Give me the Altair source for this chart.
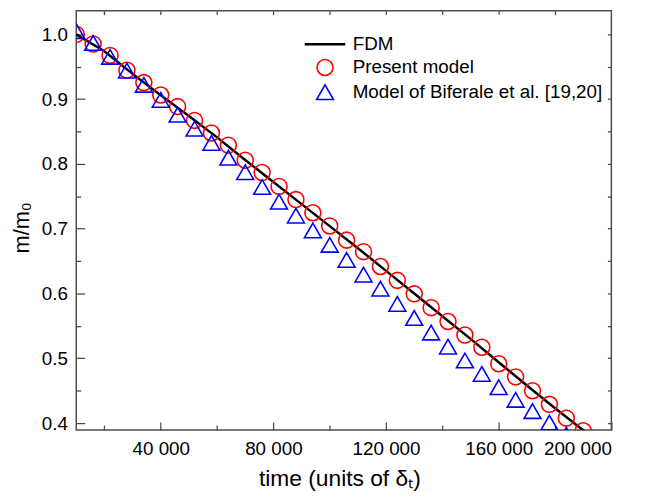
import altair as alt
import pandas as pd

# ---------------- data ----------------
series_names = ["FDM", "Present model", "Model of Biferale et al. [19,20]"]
series_colors = ["#000000", "#ff0000", "#0000ff"]
series_shapes = ["stroke", "circle", "triangle-up"]
series_sizes = [1681, 260, 290]
series_widths = [2.5, 1.6, 1.6]

fdm_time = [10000, 20000, 30000, 40000, 50000, 60000, 70000, 80000, 90000, 100000,
            110000, 120000, 130000, 140000, 150000, 160000, 170000, 180000, 190000, 195000]
fdm_mass = [1.000, 0.974, 0.939, 0.906, 0.874, 0.841, 0.806, 0.772, 0.738, 0.704,
            0.670, 0.635, 0.600, 0.565, 0.530, 0.494, 0.458, 0.423, 0.389, 0.371]

present_time = [10000, 16000, 22000, 28000, 34000, 40000, 46000, 52000, 58000, 64000,
                70000, 76000, 82000, 88000, 94000, 100000, 106000, 112000, 118000, 124000,
                130000, 136000, 142000, 148000, 154000, 160000, 166000, 172000, 178000, 184000,
                190000]
present_mass = [1.000, 0.9852, 0.9675, 0.9446, 0.9256, 0.9064, 0.8885, 0.8672, 0.8478, 0.8290,
                0.8057, 0.7867, 0.7653, 0.7450, 0.7247, 0.7043, 0.6824, 0.6646, 0.6417, 0.6203,
                0.5995, 0.5782, 0.5568, 0.5359, 0.5171, 0.4916, 0.4713, 0.4499, 0.4290, 0.4076,
                0.3882]

biferale_time = [10000, 16000, 22000, 28000, 34000, 40000, 46000, 52000, 58000, 64000,
                 70000, 76000, 82000, 88000, 94000, 100000, 106000, 112000, 118000, 124000,
                 130000, 136000, 142000, 148000, 154000, 160000, 166000, 172000, 178000, 184000]
biferale_mass = [1.005, 0.9867, 0.9653, 0.9440, 0.9221, 0.8988, 0.8759, 0.8545, 0.8325, 0.8096,
                 0.7873, 0.7644, 0.7417, 0.7202, 0.6973, 0.6751, 0.6519, 0.6291, 0.6075, 0.5840,
                 0.5623, 0.5397, 0.5180, 0.4966, 0.4759, 0.4553, 0.4359, 0.4186, 0.4008, 0.3820]

x_label_ticks = [40000, 80000, 120000, 160000, 200000]
x_minor_ticks = [20000, 60000, 100000, 140000, 180000]
x_top_ticks = [20000, 40000, 60000, 80000, 100000, 120000, 140000, 160000, 180000]
y_label_ticks = [0.4, 0.5, 0.6, 0.7, 0.8, 0.9, 1.0]
y_minor_ticks = [0.45, 0.55, 0.65, 0.75, 0.85, 0.95]
y_right_ticks = [0.4, 0.45, 0.5, 0.55, 0.6, 0.65, 0.7, 0.75, 0.8, 0.85, 0.9, 0.95, 1.0]

x_domain = [10000, 200000]
y_domain = [0.3893, 1.0366]

fdm_df = pd.DataFrame({"time": fdm_time, "mass": fdm_mass, "series": series_names[0]})
present_df = pd.DataFrame({"time": present_time, "mass": present_mass, "series": series_names[1]})
biferale_df = pd.DataFrame({"time": biferale_time, "mass": biferale_mass, "series": series_names[2]})

# ---------------- layout ----------------
W, H = 541, 424
FONT = "Liberation Sans"
AXC = "#4d4d4d"

x_scale = alt.Scale(domain=x_domain, nice=False, zero=False)
y_scale = alt.Scale(domain=y_domain, nice=False, zero=False)
color_scale = alt.Scale(domain=series_names, range=series_colors)
shape_scale = alt.Scale(domain=series_names, range=series_shapes)
size_scale = alt.Scale(type="ordinal", domain=series_names, range=series_sizes)
width_scale = alt.Scale(type="ordinal", domain=series_names, range=series_widths)

legend = alt.Legend(
    orient="none", legendX=229.5, legendY=12, title=None, direction="vertical",
    padding=0, labelFont=FONT, labelFontSize=19, labelColor="#000000", labelLimit=400,
    labelOffset=6, rowPadding=2, symbolOpacity=1, symbolFillColor="transparent",
)

axis_x_main = alt.Axis(
    orient="bottom", values=x_label_ticks,
    labelExpr="replace(format(datum.value, ','), ',', ' ')",
    labelFont=FONT, labelFontSize=19, labelColor="#000000", labelPadding=10,
    ticks=False, tickSize=0, domain=False, grid=False,
    title="time (units of δₜ)", titleFont=FONT, titleFontSize=23, titleFontWeight="normal",
    titleColor="#000000", titleBaseline="alphabetic", titleY=56, titleX=266,
)
axis_y_main = alt.Axis(
    orient="left", values=y_label_ticks, format=".1f",
    labelFont=FONT, labelFontSize=19, labelColor="#000000", labelPadding=9,
    ticks=False, tickSize=0, domain=False, grid=False,
    title="m/m₀", titleFont=FONT, titleFontSize=22, titleFontWeight="normal",
    titleColor="#000000", titleAngle=270, titleAlign="center", titleBaseline="alphabetic",
    titleX=-48, titleY=219,
)
# inward ticks at bottom (major + minor) and left (major + minor)
axis_x_in = alt.Axis(
    orient="top", offset=-H, values=x_label_ticks + x_minor_ticks, labels=False,
    domain=False, grid=False, title=None, tickColor=AXC, tickWidth=1.3,
    tickSize={"condition": {"test": "datum.value % 40000 === 0", "value": 8}, "value": 5},
)
axis_y_in = alt.Axis(
    orient="right", offset=-W, values=y_label_ticks + y_minor_ticks, labels=False,
    domain=False, grid=False, title=None, tickColor=AXC, tickWidth=1.3,
    tickSize={"condition": {"test": "abs(datum.value * 10 - round(datum.value * 10)) < 0.001", "value": 8.5},
              "value": 4.5},
)
# inward ticks at top and right
axis_x_top = alt.Axis(
    orient="bottom", offset=-H, values=x_top_ticks, labels=False, domain=False,
    grid=False, title=None, tickColor=AXC, tickWidth=1.3, tickSize=4,
)
axis_y_right = alt.Axis(
    orient="left", offset=-W, values=y_right_ticks, labels=False, domain=False,
    grid=False, title=None, tickColor=AXC, tickWidth=1.3, tickSize=4,
)

line = alt.Chart(fdm_df).mark_line(clip=True).encode(
    x=alt.X("time:Q", scale=x_scale, axis=axis_x_main),
    y=alt.Y("mass:Q", scale=y_scale, axis=axis_y_main),
    color=alt.Color("series:N", scale=color_scale, legend=legend),
    strokeWidth=alt.StrokeWidth("series:N", scale=width_scale, legend=legend),
)

circles = alt.Chart(present_df).mark_point(filled=False, opacity=1, clip=True).encode(
    x=alt.X("time:Q", scale=x_scale, axis=axis_x_in),
    y=alt.Y("mass:Q", scale=y_scale, axis=axis_y_in),
    color=alt.Color("series:N", scale=color_scale, legend=legend),
    shape=alt.Shape("series:N", scale=shape_scale, legend=legend),
    size=alt.Size("series:N", scale=size_scale, legend=legend),
    strokeWidth=alt.StrokeWidth("series:N", scale=width_scale, legend=legend),
)

triangles = alt.Chart(biferale_df).mark_point(filled=False, opacity=1, clip=True).encode(
    x=alt.X("time:Q", scale=x_scale, axis=axis_x_top),
    y=alt.Y("mass:Q", scale=y_scale, axis=axis_y_right),
    color=alt.Color("series:N", scale=color_scale, legend=legend),
    shape=alt.Shape("series:N", scale=shape_scale, legend=legend),
    size=alt.Size("series:N", scale=size_scale, legend=legend),
    strokeWidth=alt.StrokeWidth("series:N", scale=width_scale, legend=legend),
)

chart = (
    alt.layer(line, circles, triangles)
    .resolve_axis(x="independent", y="independent")
    .properties(
        width=W, height=H,
        autosize=alt.AutoSizeParams(type="none"),
        padding={"left": 69, "top": 0, "right": 34, "bottom": 62},
    )
    .configure(font=FONT)
    .configure_view(stroke=AXC, strokeWidth=1.5)
)

chart.save("out.html", embed_options={"renderer": "svg", "actions": False})
